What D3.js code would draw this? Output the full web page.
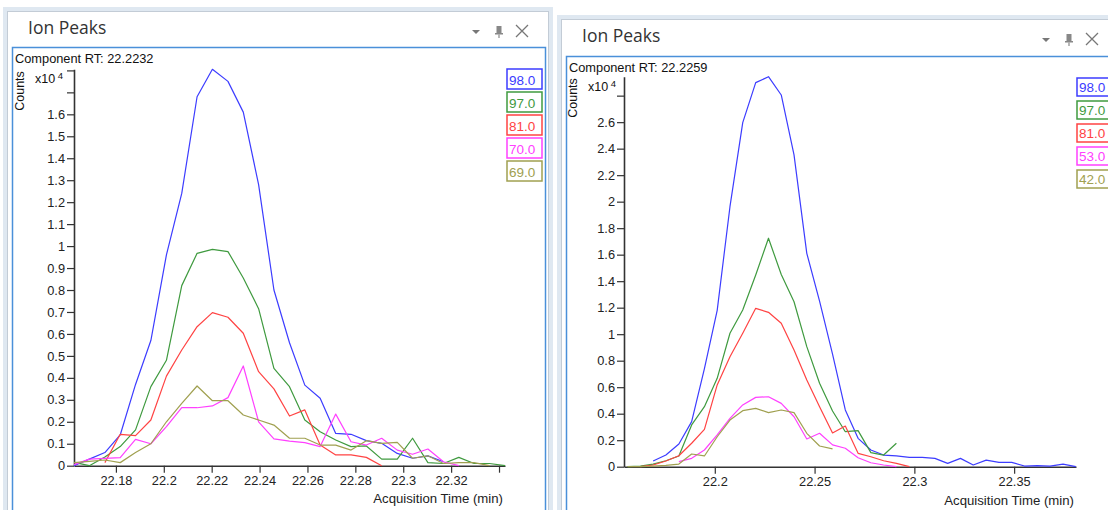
<!DOCTYPE html>
<html><head><meta charset="utf-8">
<script src="https://cdn.jsdelivr.net/npm/d3@7"></script>
<style>
html,body{margin:0;padding:0;background:#fff;}
svg{display:block;font-family:"Liberation Sans",Arial,sans-serif;}
</style></head><body>
<svg id="chart" width="1108" height="510"></svg>
<script>
// ---------------- DATA (left panel) ----------------
const leftTimes = [22.1625, 22.1689, 22.1754, 22.1818, 22.1882, 22.1946, 22.2011, 22.2075, 22.2139, 22.2203,
  22.2268, 22.2332, 22.2396, 22.2460, 22.2525, 22.2589, 22.2653, 22.2718, 22.2782, 22.2846,
  22.2910, 22.2975, 22.3039, 22.3103, 22.3168, 22.3232, 22.3296, 22.3360, 22.3425];
const left98 = [0, 0.03, 0.06, 0.14, 0.37, 0.57, 0.96, 1.24, 1.68, 1.805, 1.75, 1.61, 1.28, 0.80, 0.56, 0.367, 0.307,
  0.147, 0.143, 0.114, 0.102, 0.056, 0.034, 0.045, 0.018, null, null, null, null];
const left97 = [0.015, 0.0, 0.04, 0.087, 0.163, 0.36, 0.48, 0.82, 0.967, 0.985, 0.975, 0.855, 0.715, 0.443, 0.36, 0.208,
  0.155, 0.117, 0.087, 0.09, 0.03, 0.03, 0.125, 0.014, 0.01, 0.038, 0.01, 0.01, 0.0];
const left81 = [null, null, 0.014, 0.143, 0.137, 0.208, 0.408, 0.527, 0.633, 0.697, 0.676, 0.603, 0.428, 0.35, 0.226,
  0.254, 0.094, 0.049, 0.049, 0.038, 0.0, null, null, null, null, null, null, null, null];
const left70 = [0.005, 0.03, 0.033, 0.037, 0.12, 0.10, 0.178, 0.264, 0.264, 0.272, 0.31, 0.454, 0.2, 0.122, 0.112, 0.105,
  0.087, 0.235, 0.109, 0.094, 0.125, 0.071, 0.052, 0.076, 0.018, 0.0, null, null, null];
const left69 = [0.014, 0.02, 0.026, 0.014, 0.06, 0.10, 0.2, 0.284, 0.363, 0.296, 0.296, 0.231, 0.208, 0.185, 0.125, 0.125,
  0.094, 0.094, 0.071, 0.114, 0.102, 0.106, 0.034, 0.045, 0.01, 0.014, 0.014, 0.0, null];
const leftIons = ["98.0", "97.0", "81.0", "70.0", "69.0"];
const leftXDomain = [22.1625, 22.3425];
const leftXTicks = [22.18, 22.2, 22.22, 22.24, 22.26, 22.28, 22.3, 22.32, 22.34];
const leftXTickLabels = ["22.18", "22.2", "22.22", "22.24", "22.26", "22.28", "22.3", "22.32", ""];
const leftYTicks = [0, 0.1, 0.2, 0.3, 0.4, 0.5, 0.6, 0.7, 0.8, 0.9, 1, 1.1, 1.2, 1.3, 1.4, 1.5, 1.6, 1.7, 1.8];
const leftYTickLabels = ["0", "0.1", "0.2", "0.3", "0.4", "0.5", "0.6", "0.7", "0.8", "0.9", "1", "1.1", "1.2", "1.3", "1.4", "1.5", "1.6", "", ""];
const leftRT = "Component RT: 22.2232";

// ---------------- DATA (right panel) ----------------
const rightTimes = [22.1563, 22.1627, 22.1691, 22.1755, 22.1820, 22.1884, 22.1948, 22.2012, 22.2076, 22.2140,
  22.2205, 22.2269, 22.2333, 22.2397, 22.2461, 22.2525, 22.2590, 22.2654, 22.2718, 22.2782,
  22.2846, 22.2910, 22.2975, 22.3039, 22.3103, 22.3167, 22.3231, 22.3295, 22.3360, 22.3424,
  22.3488, 22.3552, 22.3616, 22.3680, 22.3745, 22.3809];
const right98 = [null, null, 0.043, 0.088, 0.171, 0.34, 0.74, 1.18, 1.962, 2.596, 2.898, 2.943, 2.805, 2.353, 1.61, 1.25,
  0.85, 0.428, 0.214, 0.126, 0.088, 0.081, 0.071, 0.071, 0.063, 0.025, 0.063, 0.013, 0.05, 0.033, 0.033, 0.005, 0.008,
  0.005, 0.02, 0.0];
const right97 = [0, 0.005, 0.02, 0.045, 0.081, 0.315, 0.453, 0.667, 1.007, 1.183, 1.447, 1.724, 1.45, 1.245, 0.906, 0.63,
  0.42, 0.264, 0.272, 0.106, 0.088, 0.177, null, null, null, null, null, null, null, null, null, null, null, null, null, null];
const right81 = [null, 0.0, 0.013, 0.043, 0.083, 0.177, 0.282, 0.617, 0.83, 1.007, 1.195, 1.165, 1.082, 0.88, 0.654, 0.453,
  0.255, 0.307, 0.101, 0.075, 0.045, 0.025, 0.0, null, null, null, null, null, null, null, null, null, null, null, null, null];
const right53 = [null, null, null, null, 0.038, 0.063, 0.126, 0.24, 0.365, 0.466, 0.523, 0.528, 0.478, 0.377, 0.209, 0.252,
  0.165, 0.139, 0.068, 0.03, 0.013, 0.0, null, null, null, null, null, null, null, null, null, null, null, null, null, null];
const right42 = [0, 0.0, 0.005, 0.01, 0.02, 0.096, 0.081, 0.226, 0.352, 0.423, 0.44, 0.408, 0.428, 0.408, 0.252, 0.156,
  0.134, null, null, null, null, null, null, null, null, null, null, null, null, null, null, null, null, null, null, null];
const rightIons = ["98.0", "97.0", "81.0", "53.0", "42.0"];
const rightXDomain = [22.1545, 22.381];
const rightXTicks = [22.2, 22.25, 22.3, 22.35];
const rightXTickLabels = ["22.2", "22.25", "22.3", "22.35"];
const rightYTicks = [0, 0.2, 0.4, 0.6, 0.8, 1, 1.2, 1.4, 1.6, 1.8, 2, 2.2, 2.4, 2.6, 2.8];
const rightYTickLabels = ["0", "0.2", "0.4", "0.6", "0.8", "1", "1.2", "1.4", "1.6", "1.8", "2", "2.2", "2.4", "2.6", ""];
const rightRT = "Component RT: 22.2259";

const panelTitle = "Ion Peaks";
const yUnitLabel = "Counts";
const xAxisLabel = "Acquisition Time (min)";
const seriesColors = ["#3c3cff", "#3f9a3f", "#ff4343", "#ff40ff", "#a0a050"];

// ---------------- DRAWING ----------------
const svg = d3.select("#chart");

function drawChrome(L) {
  const g = svg.append("g");
  g.append("rect").attr("x", L.ox).attr("y", L.oy).attr("width", L.ow).attr("height", 600)
    .attr("fill", "#dfe8f1");
  g.append("rect").attr("x", L.ox + 4.5).attr("y", L.oy + 4.5).attr("width", L.ow - 9).attr("height", 600)
    .attr("fill", "#fff").attr("stroke", "#c3ccd6").attr("stroke-width", 1);
  g.append("text").attr("x", L.titleX).attr("y", L.titleY).text(panelTitle)
    .attr("font-family", "'Open Sans', 'Noto Sans', sans-serif").attr("font-size", 17.5).attr("fill", "#333");
  g.append("path").attr("d", `M${L.iconX - 4},${L.iconY - 2} L${L.iconX + 4},${L.iconY - 2} L${L.iconX},${L.iconY + 2} Z`)
    .attr("fill", "#777");
  const px = L.iconX + 23, py = L.iconY;
  g.append("rect").attr("x", px - 2.5).attr("y", py - 6).attr("width", 5).attr("height", 7).attr("fill", "#888");
  g.append("rect").attr("x", px - 4).attr("y", py + 1).attr("width", 8).attr("height", 1.5).attr("fill", "#888");
  g.append("line").attr("x1", px).attr("x2", px).attr("y1", py + 2.5).attr("y2", py + 6).attr("stroke", "#888").attr("stroke-width", 1.2);
  const cx = L.iconX + 46, cy = L.iconY - 1;
  g.append("path").attr("d", `M${cx - 6},${cy - 6} L${cx + 6},${cy + 6} M${cx + 6},${cy - 6} L${cx - 6},${cy + 6}`)
    .attr("stroke", "#777").attr("stroke-width", 1.3).attr("fill", "none");
  g.append("rect").attr("x", L.fx).attr("y", L.fy).attr("width", L.fw).attr("height", 600)
    .attr("fill", "#fff").attr("stroke", "#4a90d9").attr("stroke-width", 1.5);
}

function drawPanel(P, L) {
  drawChrome(L);
  const g = svg.append("g");
  const allVals = P.series.flat().filter(v => v != null);
  const x = d3.scaleLinear().domain(P.xDomain).range([L.x0, L.x1]);
  const y = d3.scaleLinear().domain([0, d3.max(allVals)]).range([L.y0, L.y1]);

  g.append("text").attr("x", L.fx + 2.5).attr("y", L.rtY).text(P.rt).attr("font-size", 12.8).attr("fill", "#111");
  g.append("text").attr("transform", `translate(${L.countsX},${L.countsY}) rotate(-90)`)
    .attr("text-anchor", "middle").text(yUnitLabel).attr("font-size", 12.5).attr("fill", "#111");
  const ex = g.append("text").attr("x", L.expX).attr("y", L.expY).attr("font-size", 12.5).attr("fill", "#111");
  ex.append("tspan").text("x10");
  ex.append("tspan").attr("dx", 2.5).attr("dy", -4).attr("font-size", 9.5).text("4");

  const yAxis = d3.axisLeft(y).tickValues(P.yTicks).tickFormat((d, i) => P.yTickLabels[i])
    .tickSize(7).tickSizeOuter(0).tickPadding(2);
  const xAxis = d3.axisBottom(x).tickValues(P.xTicks).tickFormat((d, i) => P.xTickLabels[i])
    .tickSize(7).tickSizeOuter(0).tickPadding(3);
  const ga = g.append("g").attr("transform", `translate(${L.x0},0)`).call(yAxis);
  const gb = g.append("g").attr("transform", `translate(0,${L.y0})`).call(xAxis);
  [ga, gb].forEach(a => {
    a.selectAll("path.domain").attr("stroke", "#333").attr("stroke-width", 1.6);
    a.selectAll(".tick line").attr("stroke", "#333").attr("stroke-width", 1.2);
    a.selectAll(".tick text").attr("font-size", 12.8).attr("fill", "#222")
      .attr("font-family", "'Liberation Sans', Arial, sans-serif");
  });

  g.append("text").attr("x", L.x1 - 2).attr("y", L.xlabY).attr("text-anchor", "end")
    .text(xAxisLabel).attr("font-size", 13.2).attr("fill", "#222");

  const line = d3.line().defined(d => d[1] != null).x(d => x(d[0])).y(d => y(d[1]));
  P.series.forEach((s, k) => {
    const pts = P.times.map((t, i) => [t, s[i]]);
    g.append("path").attr("d", line(pts)).attr("fill", "none")
      .attr("stroke", seriesColors[k]).attr("stroke-width", 1.2).attr("stroke-linejoin", "round");
  });

  P.ions.forEach((lab, k) => {
    const by = L.legY + k * 23;
    g.append("rect").attr("x", L.legX).attr("y", by).attr("width", 35).attr("height", L.legH)
      .attr("fill", "#fff").attr("stroke", seriesColors[k]).attr("stroke-width", 1.5);
    g.append("text").attr("x", L.legX + 2).attr("y", by + L.legH - 4.5).text(lab)
      .attr("font-size", 13.5).attr("fill", seriesColors[k]);
  });
}

drawPanel(
  { times: leftTimes, series: [left98, left97, left81, left70, left69], ions: leftIons, xDomain: leftXDomain,
    xTicks: leftXTicks, xTickLabels: leftXTickLabels, yTicks: leftYTicks, yTickLabels: leftYTickLabels, rt: leftRT },
  { ox: 3, oy: 7, ow: 550, titleX: 28, titleY: 34, iconX: 476, iconY: 32,
    fx: 12.5, fy: 47.5, fw: 533, rtY: 63, countsX: 24, countsY: 91, expX: 35, expY: 83,
    x0: 74, x1: 505, y0: 465.7, y1: 69.3, xlabY: 503, legX: 507, legY: 69, legH: 20 }
);
drawPanel(
  { times: rightTimes, series: [right98, right97, right81, right53, right42], ions: rightIons, xDomain: rightXDomain,
    xTicks: rightXTicks, xTickLabels: rightXTickLabels, yTicks: rightYTicks, yTickLabels: rightYTickLabels, rt: rightRT },
  { ox: 557, oy: 15, ow: 600, titleX: 582, titleY: 42, iconX: 1046, iconY: 40,
    fx: 566.5, fy: 56.5, fw: 600, rtY: 72, countsX: 577, countsY: 98, expX: 588, expY: 91,
    x0: 624, x1: 1076, y0: 466.7, y1: 76.7, xlabY: 505, legX: 1077, legY: 78, legH: 18 }
);
</script></body></html>
